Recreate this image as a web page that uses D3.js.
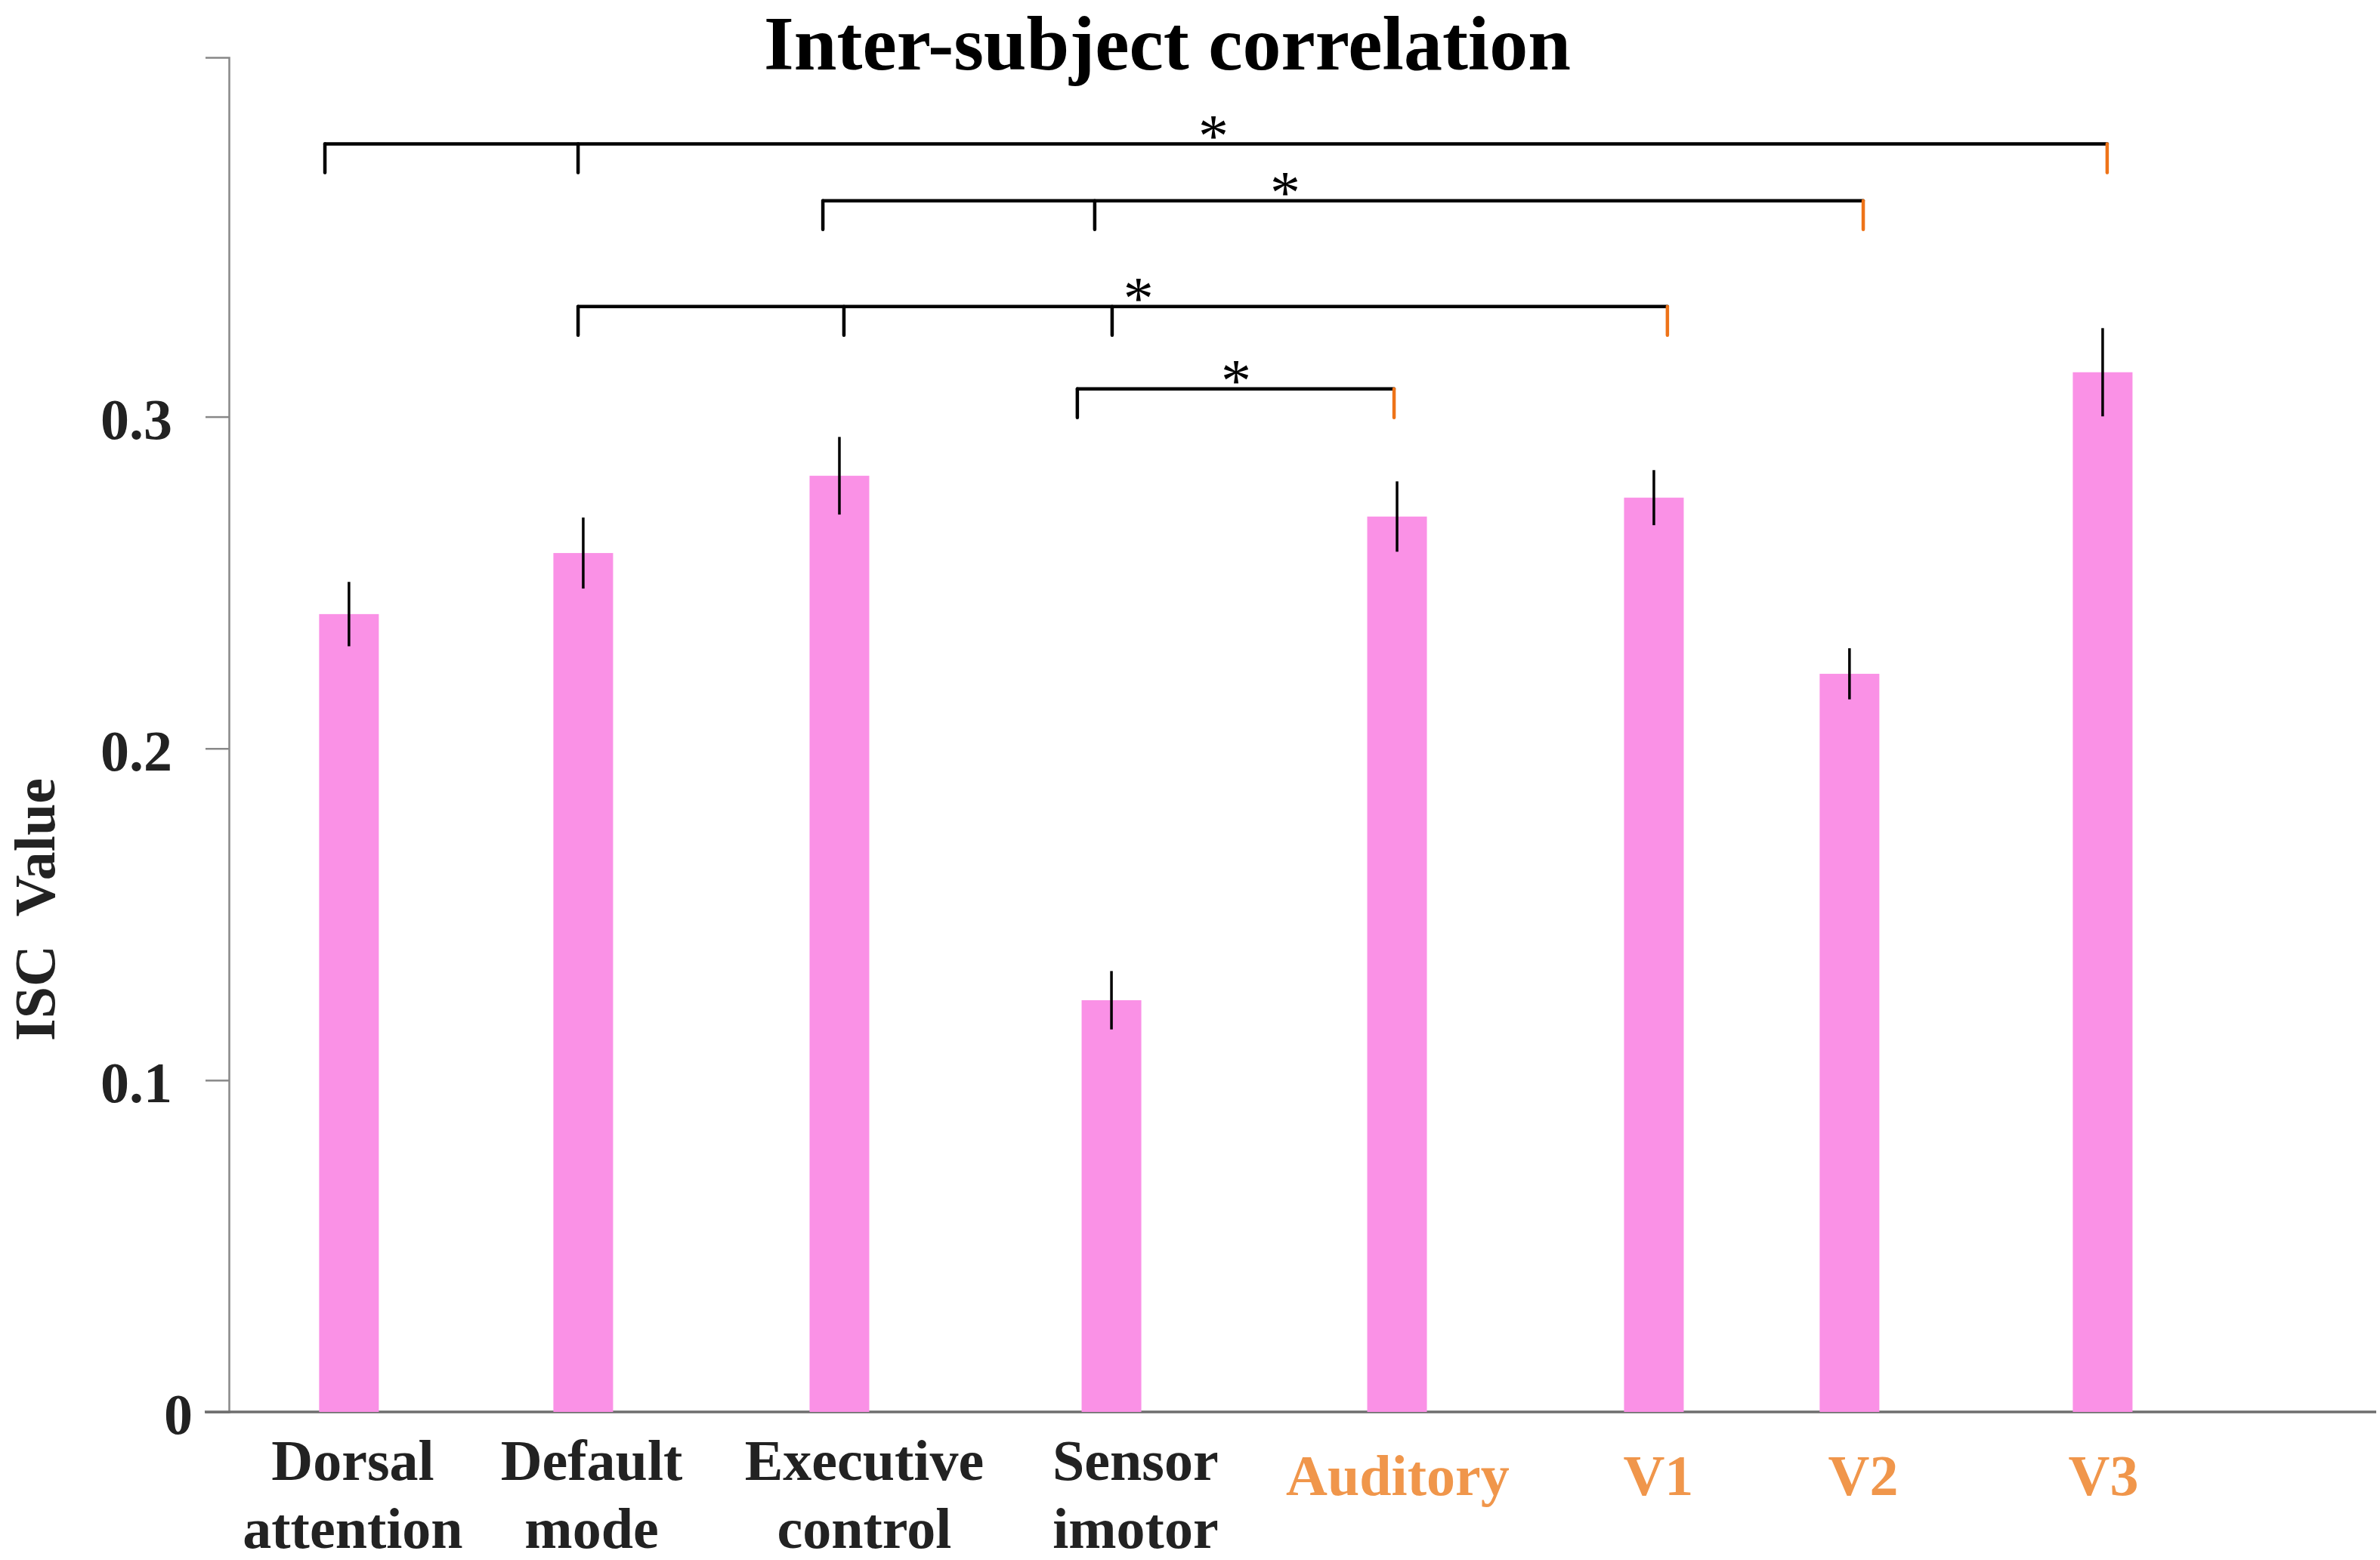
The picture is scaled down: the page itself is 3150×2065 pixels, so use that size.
<!DOCTYPE html>
<html>
<head>
<meta charset="utf-8">
<script src="https://cdn.jsdelivr.net/npm/d3@7"></script>
<style>
  body { margin: 0; background: #fff; }
  text { font-family: "Liberation Serif", "Times New Roman", serif; }
</style>
</head>
<body>
<div id="vis"></div>
<script>
// data
var categories = ["Dorsal attention", "Default mode", "Executive control", "Sensor imotor", "Auditory", "V1", "V2", "V3"];
var labelLines = [["Dorsal", "attention"], ["Default", "mode"], ["Executive", "control"], ["Sensor", "imotor"], ["Auditory"], ["V1"], ["V2"], ["V3"]];
var isSensory = [false, false, false, false, true, true, true, true];
var barPos = [0.559, 1.650, 2.843, 4.110, 5.440, 6.636, 7.547, 8.726];
var labelPos = [0.577, 1.689, 2.959, 4.222, 5.443, 6.657, 7.611, 8.730];
var iscMean = [0.2405, 0.2589, 0.2822, 0.1241, 0.2699, 0.2756, 0.2225, 0.3134];
var iscErr = [0.0097, 0.0107, 0.0117, 0.0088, 0.0106, 0.0083, 0.0077, 0.0133];
var yTicks = [0, 0.1, 0.2, 0.3];

// significance brackets: height, tick positions (last one is the sensory network), star position
var bracketY = [0.3822, 0.3651, 0.3332, 0.3084];
var bracketTicks = [[0.447, 1.626, 8.747], [2.766, 4.032, 7.611], [1.626, 2.864, 4.113, 6.699], [3.951, 5.426]];
var starPos = [4.585, 4.919, 4.236, 4.690];

var W = 3150, H = 2065;
var barWidth = 0.278;
var textCol = "#222", orangeText = "#F0964B", orangeTick = "#EE7318", barCol = "#FA91E6";

var svg = d3.select("#vis").append("svg").attr("width", W).attr("height", H);
svg.append("rect").attr("width", W).attr("height", H).attr("fill", "#fff");

var x = d3.scaleLinear().domain([0, 10]).range([303, 3145]);
var y = d3.scaleLinear().domain([0, 0.4083]).range([1869, 76]);

// title
svg.append("text").attr("x", 1545).attr("y", 92)
    .attr("text-anchor", "middle").attr("font-size", 102).attr("font-weight", "bold")
    .attr("fill", "#000").text("Inter-subject correlation");

// y axis
var yAxis = svg.append("g").attr("transform", "translate(303,0)")
    .call(d3.axisLeft(y).tickValues(yTicks).tickSize(31).tickPadding(44)
        .tickFormat(function(d){ return d === 0 ? "0" : d3.format(".1f")(d); }));
yAxis.select(".domain").attr("stroke", "#888").attr("stroke-width", 2.5);
yAxis.selectAll(".tick line").attr("stroke", "#888").attr("stroke-width", 2.5);
yAxis.selectAll(".tick text")
    .attr("font-size", 76).attr("font-weight", "bold").attr("fill", textCol)
    .attr("font-family", "Liberation Serif, Times New Roman, serif")
    .attr("dy", "0.38em");
yAxis.selectAll(".tick").filter(function(d){ return d === 0; }).select("text").attr("x", -48);

// x axis line (runs a little past the y axis like the zero tick)
svg.append("line").attr("x1", 271).attr("x2", x(10)).attr("y1", y(0)).attr("y2", y(0))
    .attr("stroke", "#6e6e6e").attr("stroke-width", 3.5);

// y axis label
svg.append("text").attr("transform", "translate(72,1204) rotate(-90)")
    .attr("text-anchor", "middle").attr("font-size", 76).attr("font-weight", "bold")
    .attr("fill", textCol).text("ISC\u00a0\u00a0Value");

// bars
var bw = x(barWidth) - x(0);
svg.append("g").selectAll("rect").data(categories).enter().append("rect")
    .attr("x", function(d, i){ return x(barPos[i]) - bw / 2; })
    .attr("y", function(d, i){ return y(iscMean[i]); })
    .attr("width", bw)
    .attr("height", function(d, i){ return y(0) - y(iscMean[i]); })
    .attr("fill", barCol);

// error bars, no caps
svg.append("g").selectAll("line").data(categories).enter().append("line")
    .attr("x1", function(d, i){ return x(barPos[i]); })
    .attr("x2", function(d, i){ return x(barPos[i]); })
    .attr("y1", function(d, i){ return y(iscMean[i] + iscErr[i]); })
    .attr("y2", function(d, i){ return y(iscMean[i] - iscErr[i]); })
    .attr("stroke", "#000").attr("stroke-width", 3.5);

// category labels
var lab = svg.append("g").selectAll("text").data(categories).enter().append("text")
    .attr("text-anchor", "middle").attr("font-size", 76).attr("font-weight", "bold")
    .attr("fill", function(d, i){ return isSensory[i] ? orangeText : textCol; });
lab.each(function(d, i){
    var t = d3.select(this), lines = labelLines[i];
    if (lines.length === 1) {
        t.append("tspan").attr("x", x(labelPos[i])).attr("y", 1979).text(lines[0]);
    } else {
        t.append("tspan").attr("x", x(labelPos[i])).attr("y", 1959).text(lines[0]);
        t.append("tspan").attr("x", x(labelPos[i])).attr("y", 2049).text(lines[1]);
    }
});

// significance brackets
var tickLen = 38;
var br = svg.append("g");
bracketY.forEach(function(v, b){
    var ticks = bracketTicks[b], yy = y(v);
    br.append("line").attr("x1", x(ticks[0])).attr("x2", x(ticks[ticks.length - 1]))
        .attr("y1", yy).attr("y2", yy)
        .attr("stroke", "#000").attr("stroke-width", 4.5).attr("stroke-linecap", "round");
    ticks.forEach(function(t, k){
        br.append("line").attr("x1", x(t)).attr("x2", x(t))
            .attr("y1", yy).attr("y2", yy + tickLen)
            .attr("stroke", k === ticks.length - 1 ? orangeTick : "#000")
            .attr("stroke-width", 4.5).attr("stroke-linecap", "round");
    });
    br.append("text").attr("x", x(starPos[b])).attr("y", yy + 16)
        .attr("text-anchor", "middle").attr("font-size", 80).attr("fill", "#000").text("*");
});
</script>
</body>
</html>
